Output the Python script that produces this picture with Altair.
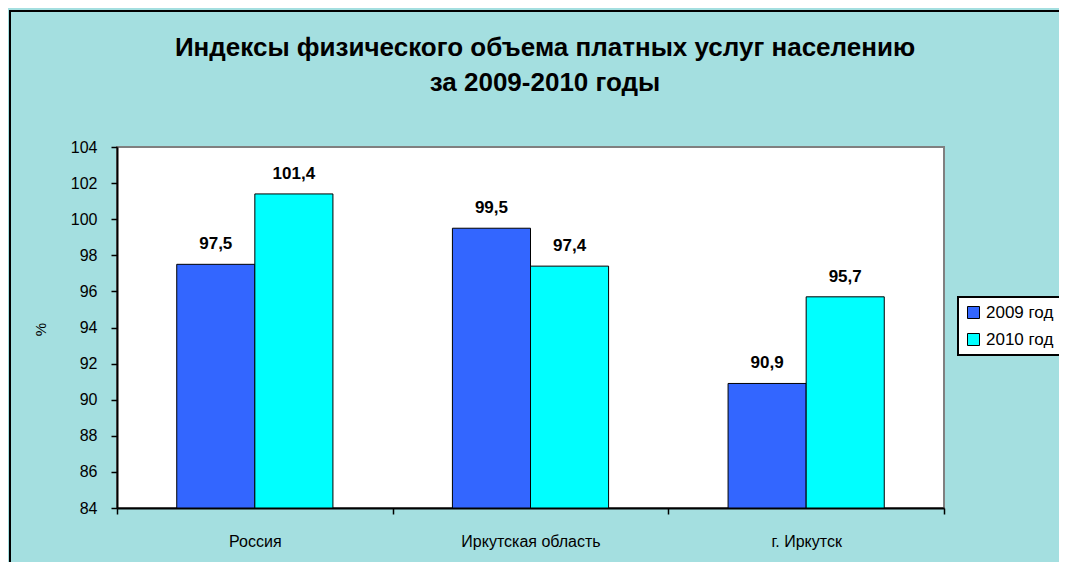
import altair as alt
import pandas as pd

categories = ["Россия", "Иркутская область", "г. Иркутск"]
years = ["2009 год", "2010 год"]
values_2009 = [97.5, 99.5, 90.9]
values_2010 = [101.4, 97.4, 95.7]
colors = ["#3366FF", "#00FFFF"]
y_ticks = list(range(84, 105, 2))
title_lines = ["Индексы физического объема платных услуг населению", "за  2009-2010 годы"]

rows = []
for c, v9, v10 in zip(categories, values_2009, values_2010):
    rows.append({"cat": c, "year": years[0], "value": v9, "label": f"{v9:.1f}".replace(".", ",")})
    rows.append({"cat": c, "year": years[1], "value": v10, "label": f"{v10:.1f}".replace(".", ",")})
df = pd.DataFrame(rows)

FONT = "Liberation Sans"

x_enc = alt.X("cat:N", sort=categories, scale=alt.Scale(paddingInner=0, paddingOuter=0),
              axis=alt.Axis(title=None, labelAngle=0, tickBand="extent", labelPadding=19,
                            labelFontSize=16, tickSize=6))
xo_enc = alt.XOffset("year:N", sort=years, scale=alt.Scale(paddingInner=0, paddingOuter=0.765))
y_enc = alt.Y("value:Q", scale=alt.Scale(domain=[84, 104], nice=False, zero=False),
              axis=alt.Axis(values=y_ticks, title="%", titleAngle=270, titleX=-77, titleY=182,
                            titleAlign="center", titleBaseline="middle", titleFontSize=15,
                            titleFontWeight="normal", labelFontSize=16, tickSize=6,
                            labelPadding=14, grid=False, format="d", labelOverlap=False))

base = alt.Chart(df)
bars = base.mark_bar(stroke="black", strokeWidth=1).encode(
    x=x_enc, xOffset=xo_enc, y=y_enc, y2=alt.datum(84),
    color=alt.Color("year:N", sort=years, scale=alt.Scale(domain=years, range=colors),
                    legend=alt.Legend(title=None, orient="none", legendX=841, legendY=150,
                                      symbolType="square", symbolSize=144, symbolStrokeColor="black",
                                      symbolStrokeWidth=1, labelFontSize=17, rowPadding=9,
                                      padding=7, fillColor="white", strokeColor="black",
                                      labelLimit=200)),
)
labels = base.mark_text(baseline="bottom", dy=-11, fontWeight="bold", fontSize=17, font=FONT,
                        color="black").encode(
    x=x_enc, xOffset=xo_enc, y=y_enc, text="label:N")

frame = alt.Chart(pd.DataFrame({"a": [0]})).mark_rect(
    fill="transparent", stroke="black", strokeWidth=2).encode(
    x=alt.value(-107), x2=alt.value(1100), y=alt.value(-136), y2=alt.value(600))

title1 = alt.Chart(pd.DataFrame({"t": [title_lines[0]]})).mark_text(
    fontSize=26, fontWeight="bold", font=FONT, color="black", baseline="middle", align="center"
).encode(x=alt.value(428), y=alt.value(-99), text="t:N")
title2 = alt.Chart(pd.DataFrame({"t": [title_lines[1]]})).mark_text(
    fontSize=26, fontWeight="bold", font=FONT, color="black", baseline="middle", align="center"
).encode(x=alt.value(428), y=alt.value(-64), text="t:N")

chart = alt.layer(frame, title1, title2, bars, labels).properties(
    width=827, height=361,
    autosize=alt.AutoSizeParams(type="none"),
    padding={"left": 109, "top": 139, "right": 115, "bottom": 54},
).configure(background="#A4DFE0", font=FONT).configure_view(
    fill="white", stroke="#808080", strokeWidth=2
).configure_axis(
    domainColor="black", domainWidth=2, tickColor="black", tickWidth=1.5,
    labelColor="black", titleColor="black", labelFont=FONT, titleFont=FONT
).configure_legend(labelFont=FONT, labelColor="black", strokeWidth=2)

chart.save("out.html", embed_options={"renderer": "svg", "actions": False})
